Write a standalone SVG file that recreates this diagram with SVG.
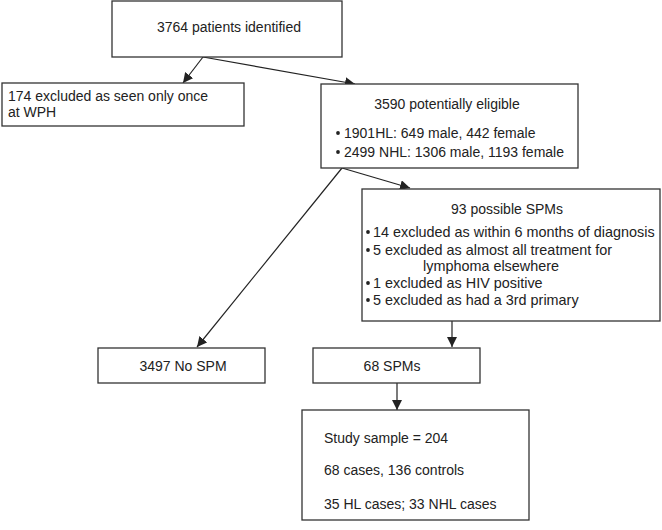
<svg xmlns="http://www.w3.org/2000/svg" width="662" height="530" viewBox="0 0 662 530">
<defs>
<style>
.box{fill:#fff;stroke:#333;stroke-width:1.3}
text{font-family:"Liberation Sans",Arial,sans-serif;font-size:14px;fill:#222}
.c{text-anchor:middle}
.b4{font-size:14.4px}
.dot{fill:#222}
.ln{stroke:#222;stroke-width:1.2;fill:none;marker-end:url(#ah)}
</style>
<marker id="ah" viewBox="0 0 10 10" refX="10" refY="5" markerWidth="10" markerHeight="10" markerUnits="userSpaceOnUse" orient="auto">
<path d="M0,0 L10,5 L0,10 z" fill="#222"/>
</marker>
</defs>
<rect width="662" height="530" fill="#fff"/>
<g id="connectors">
<line class="ln" x1="203" y1="57" x2="183" y2="83"/>
<line class="ln" x1="203" y1="57" x2="355" y2="84"/>
<line class="ln" x1="342" y1="168" x2="410" y2="188"/>
<line class="ln" x1="342" y1="168" x2="197" y2="347"/>
<line class="ln" x1="452" y1="321" x2="452" y2="347"/>
<line class="ln" x1="397" y1="383" x2="397" y2="410"/>
</g>
<g id="n1">
<rect class="box" x="112" y="1" width="230" height="56"/>
<text class="c" x="229" y="32">3764 patients identified</text>
</g>
<g id="n2">
<rect class="box" x="2" y="83" width="242" height="43"/>
<text x="8" y="101">174 excluded as seen only once</text>
<text x="8" y="117">at WPH</text>
</g>
<g id="n3">
<rect class="box" x="321" y="84" width="257" height="84"/>
<text class="c" x="447" y="109">3590 potentially eligible</text>
<circle class="dot" cx="338" cy="133" r="1.9"/>
<text x="344" y="138">1901HL: 649 male, 442 female</text>
<circle class="dot" cx="338" cy="152" r="1.9"/>
<text x="344" y="157">2499 NHL: 1306 male, 1193 female</text>
</g>
<g id="n4">
<rect class="box" x="362" y="189" width="298" height="132"/>
<text class="c" x="507" y="214">93 possible SPMs</text>
<circle class="dot" cx="368" cy="232" r="1.9"/>
<text class="b4" x="373" y="237">14 excluded as within 6 months of diagnosis</text>
<circle class="dot" cx="368" cy="250" r="1.9"/>
<text class="b4" x="373" y="255">5 excluded as almost all treatment for</text>
<text class="b4" x="423" y="271">lymphoma elsewhere</text>
<circle class="dot" cx="368" cy="283" r="1.9"/>
<text class="b4" x="373" y="288">1 excluded as HIV positive</text>
<circle class="dot" cx="368" cy="300" r="1.9"/>
<text class="b4" x="373" y="305">5 excluded as had a 3rd primary</text>
</g>
<g id="n5">
<rect class="box" x="98" y="348" width="167" height="35"/>
<text class="c" x="183" y="371">3497 No SPM</text>
</g>
<g id="n6">
<rect class="box" x="313" y="348" width="167" height="35"/>
<text class="c" x="392" y="371">68 SPMs</text>
</g>
<g id="n7">
<rect class="box" x="302" y="410" width="227" height="110"/>
<text x="324" y="443">Study sample = 204</text>
<text x="324" y="475">68 cases, 136 controls</text>
<text x="324" y="509">35 HL cases; 33 NHL cases</text>
</g>
</svg>
